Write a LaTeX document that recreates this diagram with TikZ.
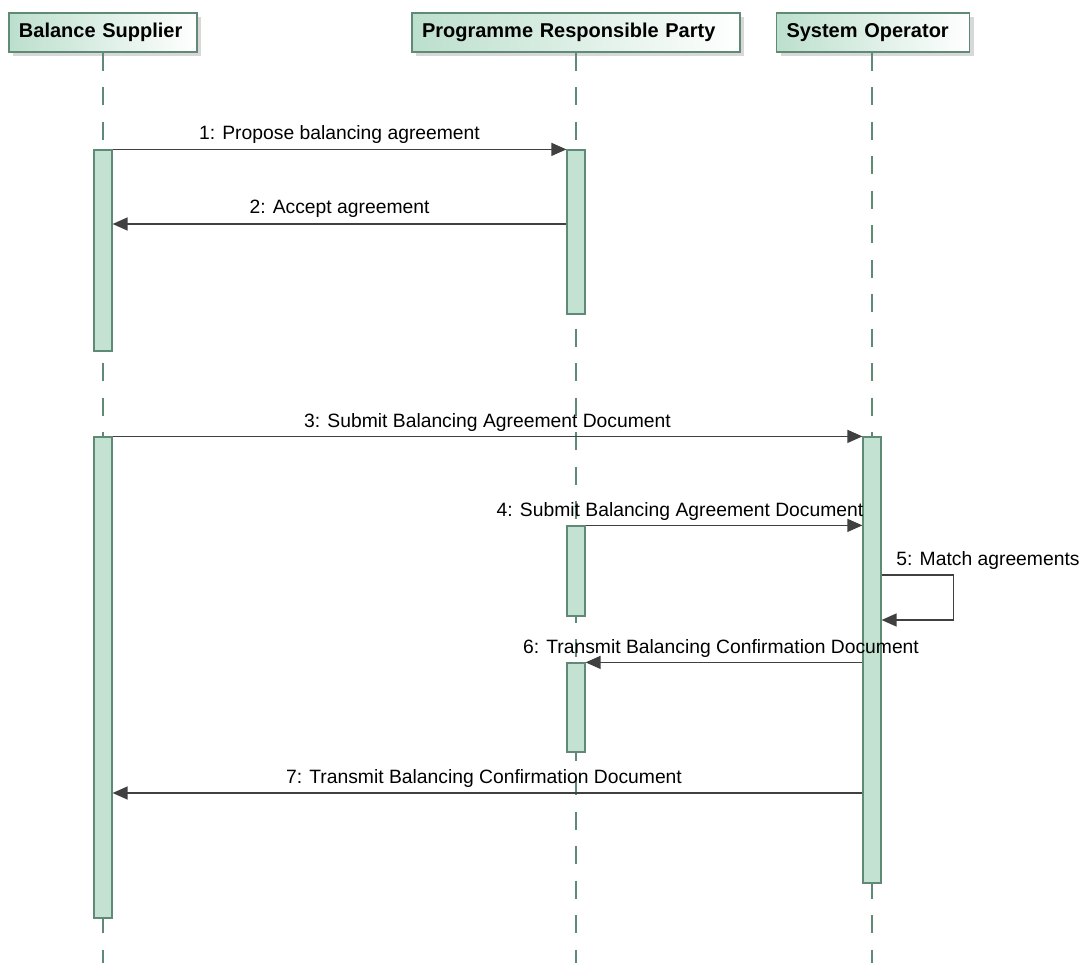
\documentclass[tikz,border=0pt]{standalone}
\usepackage{fontspec}
\setmainfont{Liberation Sans}
\usetikzlibrary{arrows.meta,shadows}
\definecolor{barfill}{HTML}{C4E2D2}
\definecolor{barline}{HTML}{5E8A76}
\definecolor{msgline}{HTML}{404040}
\definecolor{headgreen}{HTML}{BCDFCD}
\begin{document}
\begin{tikzpicture}[x=1pt,y=-1pt,
 header/.style={draw=barline, line width=1.2pt, left color=headgreen, right color=white,
   drop shadow={shadow xshift=4pt,shadow yshift=-4pt,fill=black!30},
   minimum height=39pt, inner xsep=10pt, inner ysep=0pt, text height=14pt, text depth=4pt,
   align=left, text width=#1, font=\bfseries\fontsize{20}{22}\selectfont},
 bar/.style={draw=barline, fill=barfill, line width=1.2pt, minimum width=18pt, inner sep=0pt},
 life/.style={draw=barline, line width=1.2pt, dash pattern=on 18pt off 16.5pt},
 msg/.style={draw=msgline, line width=1.3pt, -{Triangle[length=15pt,width=13pt]}},
 lbl/.style={font=\fontsize{19.3}{21}\selectfont, anchor=base, inner sep=0pt},
]
\useasboundingbox[fill=white] (0,0) rectangle (1088,963);
\coordinate (bottom) at (0,1000);
% headers
\node[header=168pt] (bs) at (103,32.5) {Balance Supplier};
\node[header=308pt] (prp) at (576,32.5) {Programme Responsible Party};
\node[header=173pt] (so) at (873,32.5) {System Operator};
% lifelines
\draw[life] (bs.south) -- (bs.south |- bottom);
\draw[life] (prp.south) -- (prp.south |- bottom);
\draw[life] (so.south -| 872,0) -- (872,1000);
% activation bars
\node[bar, minimum height=201pt] (a1) at (103,250.5) {};
\node[bar, minimum height=164pt] (a2) at (576,232) {};
\node[bar, minimum height=481pt] (a3) at (103,677.5) {};
\node[bar, minimum height=446pt] (a4) at (872,660) {};
\node[bar, minimum height=90pt] (a5) at (576,571) {};
\node[bar, minimum height=89pt] (a6) at (576,707.5) {};
% message y-levels
\coordinate (y2) at (0,224);
\coordinate (y5a) at (0,575);
\coordinate (y5b) at (0,620);
\coordinate (y7) at (0,793);
% messages
\draw[msg] (a1.north east) -- (a2.north west);
\draw[msg] (a2.west |- y2) -- (a1.east |- y2);
\draw[msg] (a3.north east) -- (a4.north west);
\draw[msg] (a5.north east) -- (a4.west |- a5.north);
\draw[msg] (a4.east |- y5a) -- ++(72,0) |- (a4.east |- y5b);
\draw[msg] (a4.west |- a6.north) -- (a6.north east);
\draw[msg] (a4.west |- y7) -- (a3.east |- y7);
% labels
\node[lbl] (l1) at (339.5,140) {1: Propose balancing agreement};
\node[lbl] (l2) at (339.5,214) {2: Accept agreement};
\node[lbl] (l3) at (487.5,427) {3: Submit Balancing Agreement Document};
\node[lbl] (l4) at (680,516) {4: Submit Balancing Agreement Document};
\node[lbl] (l5) at (988,565) {5: Match agreements};
\node[lbl] (l6) at (721,653) {6: Transmit Balancing Confirmation Document};
\node[lbl] (l7) at (484,783) {7: Transmit Balancing Confirmation Document};
\end{tikzpicture}
\end{document}
